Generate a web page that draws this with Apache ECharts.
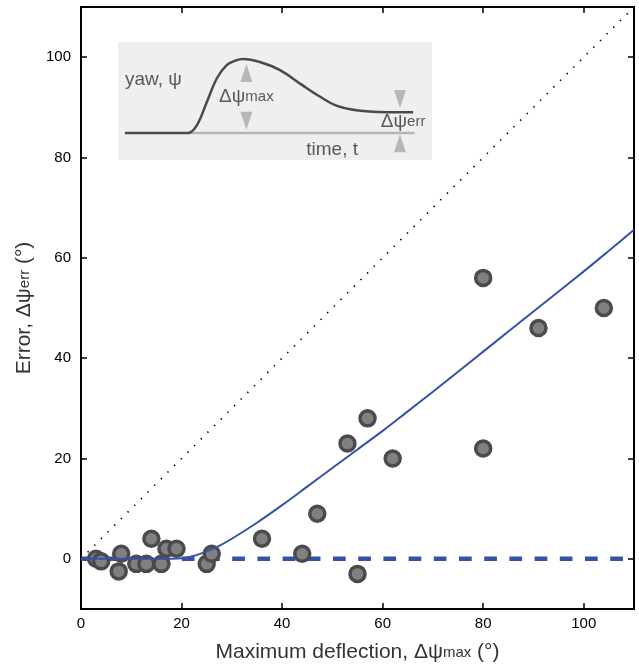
<!DOCTYPE html>
<html>
<head>
<meta charset="utf-8">
<script src="https://cdn.jsdelivr.net/npm/echarts@6/dist/echarts.min.js"></script>
<style>
html,body{margin:0;padding:0;background:#fff;}
#chart{width:639px;height:671px;}
</style>
</head>
<body>
<div id="chart"></div>
<script>
// ---- data ----
const xTicks = [0, 20, 40, 60, 80, 100];
const yTicks = [0, 20, 40, 60, 80, 100];

const deflection = [3, 4, 8, 7.5, 11, 13, 14, 16, 17, 19, 25, 26, 36, 44, 47, 53, 55, 57, 62, 80, 80, 91, 104];
const errorVals  = [0, -0.5, 1, -2.5, -1, -1, 4, -1, 2, 2, -1, 1, 4, 1, 9, 23, -3, 28, 20, 56, 22, 46, 50];

const fitX = [0, 5, 10, 15, 20, 22.5, 25, 27.5, 30, 35, 40, 45, 50, 55, 60, 65, 70, 75, 80, 85, 90, 95, 100, 105, 110];
const fitY = [0, 0, 0, 0, 0.1, 0.6, 1.5, 2.6, 4.0, 7.2, 10.7, 14.4, 18.1, 21.8, 25.5, 29.4, 33.3, 37.3, 41.3, 45.3, 49.3, 53.3, 57.3, 61.4, 65.6];

const unityX = [0, 110];
const unityY = [0, 110];
const zeroX = [0, 110];
const zeroY = [0, 0];

// inset schematic (time t in 0..100, yaw in units of Δψmax)
const insetT   = [2.2, 22.3, 25.2, 28.3, 31.5, 34.7, 37.5, 39.8, 45.2, 51.6, 58.6, 64, 69, 74, 79.9, 86, 94];
const insetYaw = [0, 0, 0.11, 0.42, 0.74, 0.92, 0.98, 1.0, 0.96, 0.85, 0.65, 0.5, 0.38, 0.32, 0.29, 0.28, 0.28];
const insetBaseT = [22.3, 94.5];
const insetBaseY = [0, 0];
const arrowUpPts   = [[40.9, 0.81], [89.8, -0.14]];
const arrowDownPts = [[40.9, 0.165], [89.8, 0.46]];
const insetLabelPos = [[2.2, 0.72], [32.2, 0.49], [90.8, 0.15], [68.2, -0.23]];
const insetLabelText = ['yaw, ψ', '{a|Δψ}{b|max}', '{a|Δψ}{b|err}', 'time, t'];

// ---- chart ----
const FONT = 'Liberation Sans, Arial, Helvetica, sans-serif';
const BLUE = '#3552a6';
const zip = (a, b) => a.map((v, i) => [v, b[i]]);

const chart = echarts.init(document.getElementById('chart'), null, {renderer: 'canvas'});

const axisCommon = {
  axisLine: {show: true, onZero: false, lineStyle: {color: '#000', width: 2}},
  axisTick: {show: true, inside: true, length: 6, lineStyle: {color: '#000', width: 1.5}},
  splitLine: {show: false}
};
const titleRich = {
  t: {fontSize: 21, color: '#333', fontFamily: FONT},
  s: {fontSize: 15, color: '#333', fontFamily: FONT}
};

const option = {
  backgroundColor: '#fff',
  animation: false,
  textStyle: {fontFamily: FONT},
  grid: [
    {left: 81, right: 5, top: 7, bottom: 62},
    {left: 118, top: 42, width: 314, height: 118, show: true, backgroundColor: '#f0efed', borderWidth: 0, z: 1}
  ],
  xAxis: [
    Object.assign({}, axisCommon, {
      type: 'value', gridIndex: 0, min: 0, max: 110, position: 'bottom',
      axisTick: Object.assign({}, axisCommon.axisTick, {customValues: xTicks}),
      axisLabel: {customValues: xTicks, color: '#000', fontSize: 15, margin: 7, fontFamily: FONT},
      name: '{t|Maximum deflection, Δψ}{s|max}{t| (°)}',
      nameLocation: 'middle', nameGap: 33,
      nameTextStyle: {rich: titleRich}
    }),
    Object.assign({}, axisCommon, {
      type: 'value', gridIndex: 0, min: 0, max: 110, position: 'top',
      axisTick: Object.assign({}, axisCommon.axisTick, {customValues: xTicks}),
      axisLabel: {show: false}
    }),
    {type: 'value', gridIndex: 1, min: 0, max: 100, show: false},
  ],
  yAxis: [
    Object.assign({}, axisCommon, {
      type: 'value', gridIndex: 0, min: -10, max: 110, position: 'left',
      axisTick: Object.assign({}, axisCommon.axisTick, {customValues: yTicks}),
      axisLabel: {customValues: yTicks, color: '#000', fontSize: 15, margin: 10, fontFamily: FONT},
      name: '{t|Error, Δψ}{s|err}{t| (°)}',
      nameLocation: 'middle', nameGap: 41, nameRotate: 90,
      nameTextStyle: {rich: titleRich}
    }),
    Object.assign({}, axisCommon, {
      type: 'value', gridIndex: 0, min: -10, max: 110, position: 'right',
      axisTick: Object.assign({}, axisCommon.axisTick, {customValues: yTicks}),
      axisLabel: {show: false}
    }),
    {type: 'value', gridIndex: 1, min: -0.365, max: 1.23, show: false},
  ],
  series: [
    {
      type: 'line', xAxisIndex: 0, yAxisIndex: 0, data: zip(unityX, unityY),
      symbol: 'none', lineStyle: {color: '#000', width: 1.6, type: [1.4, 8]}, z: 2
    },
    {
      type: 'line', xAxisIndex: 0, yAxisIndex: 0, data: zip(zeroX, zeroY),
      symbol: 'none', lineStyle: {color: BLUE, width: 4.5, type: [12.7, 12.5], cap: 'butt'}, z: 2
    },
    {
      type: 'scatter', xAxisIndex: 0, yAxisIndex: 0, data: zip(deflection, errorVals),
      symbol: 'circle', symbolSize: 15,
      itemStyle: {color: '#808080', borderColor: '#4b4b4b', borderWidth: 3.5, opacity: 1}, z: 3
    },
    {
      type: 'line', xAxisIndex: 0, yAxisIndex: 0, data: zip(fitX, fitY),
      symbol: 'none', smooth: 0.3, lineStyle: {color: BLUE, width: 2}, z: 4
    },
    // inset
    {
      type: 'line', xAxisIndex: 2, yAxisIndex: 2, data: zip(insetBaseT, insetBaseY),
      symbol: 'none', lineStyle: {color: '#b5b5b5', width: 2.5}, z: 5
    },
    {
      type: 'line', xAxisIndex: 2, yAxisIndex: 2, data: zip(insetT, insetYaw),
      symbol: 'none', smooth: 0.35, lineStyle: {color: '#4a4a4a', width: 2.5}, z: 6
    },
    {
      type: 'scatter', xAxisIndex: 2, yAxisIndex: 2, data: arrowUpPts,
      symbol: 'triangle', symbolSize: [12, 18], itemStyle: {color: '#a9a9a9'}, z: 6
    },
    {
      type: 'scatter', xAxisIndex: 2, yAxisIndex: 2, data: arrowDownPts,
      symbol: 'triangle', symbolRotate: 180, symbolSize: [12, 18], itemStyle: {color: '#a9a9a9'}, z: 6
    },
    {
      type: 'scatter', xAxisIndex: 2, yAxisIndex: 2, symbolSize: 0, z: 7,
      data: insetLabelPos.map((p, i) => ({
        value: p,
        label: {
          show: true,
          formatter: insetLabelText[i],
          position: i === 0 || i === 1 ? 'right' : 'inside',
          distance: 0,
          color: '#333', fontSize: 19, fontFamily: FONT,
          rich: {a: {fontSize: 19, color: '#333', fontFamily: FONT}, b: {fontSize: 15, color: '#333', fontFamily: FONT}}
        }
      }))
    }
  ]
};
chart.setOption(option);
</script>
</body>
</html>
